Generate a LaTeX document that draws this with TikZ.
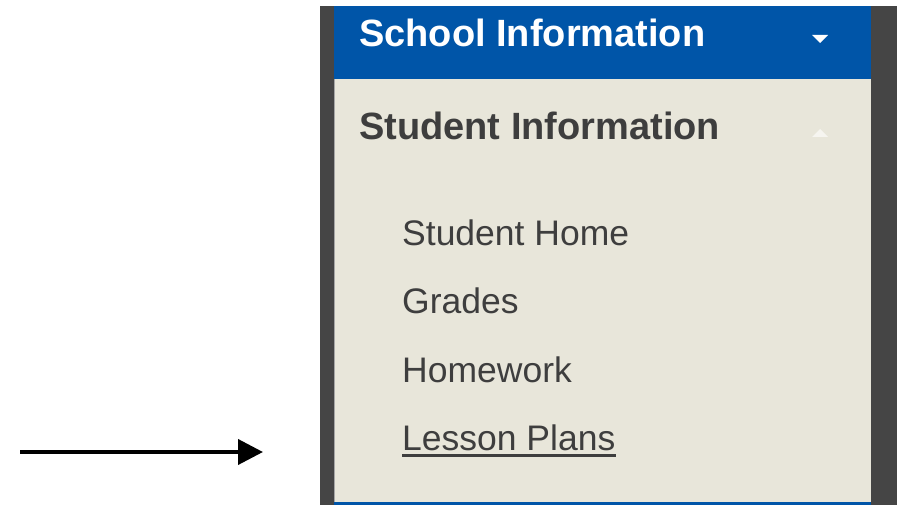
\documentclass[tikz,border=0pt]{standalone}
\usepackage{fontspec}
\setmainfont{Liberation Sans}
\usetikzlibrary{arrows.meta}

\definecolor{menublue}{HTML}{0055A8}
\definecolor{paneldark}{HTML}{454545}
\definecolor{menubeige}{HTML}{E8E6DA}
\definecolor{menutext}{HTML}{3E3E3E}

\begin{document}
\begin{tikzpicture}
  [x=1pt,y=-1pt,
   every node/.style={inner sep=0pt,anchor=base west},
   heading/.style={font=\bfseries\fontsize{38}{42}\selectfont},
   menuitem/.style={text=menutext,font=\fontsize{35.5}{40}\selectfont}]
  \useasboundingbox (0,0) rectangle (897,505);

  % panel
  \fill[paneldark] (320,6) rectangle (897,505);
  \fill[menublue] (334,6) rectangle (871,79);
  \fill[menubeige] (334,79) rectangle (871,502);
  \fill[menublue] (334,502) rectangle (871,505);
  \draw[gray!70,line width=1pt] (334.5,79) -- (334.5,502);

  \node[heading,text=white] (school) at (359,47) {School Information};
  \node[heading,text=menutext] (student) at (359,140) {Student Information};
  \fill[white] (812,35) -- (828,35) -- (820,43) -- cycle;
  \fill[white!60!menubeige] (812,137) -- (828,137) -- (820,129) -- cycle;

  \foreach \name/\y/\txt in {home/246/Student Home,grades/313/Grades,homework/382/Homework,lessons/450/Lesson Plans}
    \node[menuitem] (\name) at (402,\y) {\txt};
  \draw[menutext,line width=2.5pt] ([yshift=-5.7pt]lessons.base west) -- ([yshift=-5.7pt]lessons.base east);

  % pointer
  \coordinate (tail) at (20,452);
  \coordinate (tip) at (263,452);
  \draw[line width=4pt,-{Triangle[length=25pt,width=25pt]}] (tail) -- (tip);
\end{tikzpicture}
\end{document}
